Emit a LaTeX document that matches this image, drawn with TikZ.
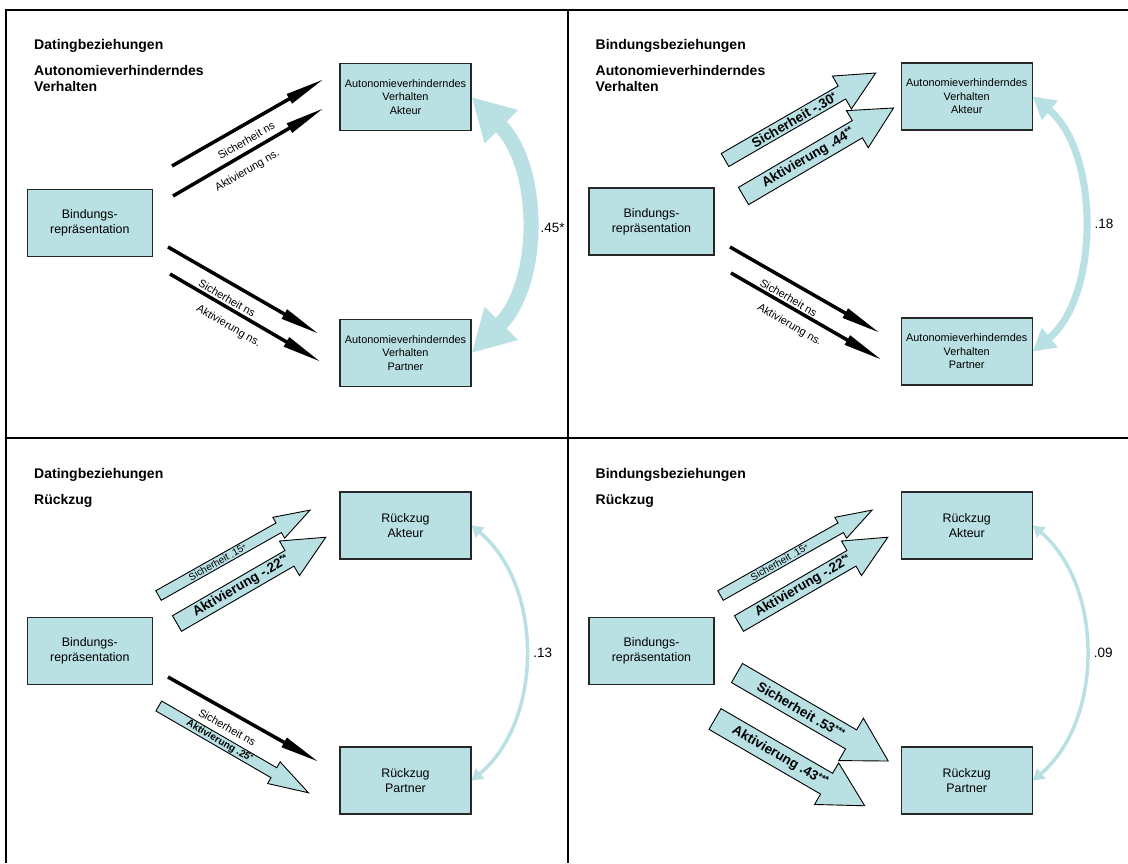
\documentclass[tikz,border=0pt]{standalone}
\usepackage{fontspec}
\setmainfont{Liberation Sans}
\usepackage{graphicx}
\usetikzlibrary{arrows.meta}
\definecolor{lb}{RGB}{185,224,227}
\definecolor{boxline}{RGB}{40,40,40}
\newcommand\fBox{\fontsize{10.9}{13.5}\selectfont}
\newcommand\fBoxL{\fontsize{12.4}{14.8}\selectfont}
\newcommand\fTitle{\fontsize{14}{16}\selectfont\bfseries}
\newcommand\fLbl{\fontsize{11}{13}\selectfont}
\newcommand\fBig{\fontsize{13.5}{15}\selectfont\bfseries}
\newcommand\fSmallB{\fontsize{10}{12}\selectfont\bfseries}
\newcommand\fSmall{\fontsize{10}{12}\selectfont}
\newcommand\fVal{\fontsize{13.5}{15}\selectfont}
\newcommand\sg[1]{\raisebox{0.25em}{\scalebox{0.7}{#1}}}
% #1 name, #2 tail, #3 angle, #4 length, #5 shaft, #6 head width, #7 head length, #8 label pos, #9 text
\newcommand\blockarrow[9]{%
  \begin{scope}[shift={#2},rotate=#3]
    \draw[barrow] (0,{-(#5)/2}) -- ({#4-#7},{-(#5)/2}) -- ({#4-#7},{-(#6)/2}) -- (#4,0)
      -- ({#4-#7},{(#6)/2}) -- ({#4-#7},{(#5)/2}) -- (0,{(#5)/2}) -- cycle;
    \node[transform shape, inner sep=0pt] (#1) at (#8,0) {#9};
  \end{scope}}
\tikzset{
  frame/.style={line width=2pt, draw=black},
  box/.style={draw=boxline, line width=1.2pt, fill=lb, align=center, inner sep=0pt,
    minimum width=131pt, minimum height=67pt, font=\fBox},
  bbox/.style={box, minimum width=125pt, font=\fBoxL},
  rbox/.style={box, font=\fBoxL},
  title/.style={anchor=base west, inner sep=0pt, font=\fTitle},
  blk/.style={line width=3.5pt, draw=black, -{Triangle[length=40pt,width=10pt]}},
  lblb/.style={pos=0.44, sloped, below=8pt, inner sep=1pt, font=\fLbl},
  barrow/.style={draw=black, line width=0.9pt, fill=lb, line join=miter},
  corrA/.style={draw=lb, line width=15pt,
    {Triangle[length=42pt,width=44pt]}-{Triangle[length=42pt,width=44pt]}},
  corrB/.style={draw=lb, line width=7pt,
    {Triangle[length=22pt,width=24pt]}-{Triangle[length=22pt,width=24pt]}},
  corrC/.style={draw=lb, line width=3.5pt,
    {Triangle[length=11pt,width=13pt]}-{Triangle[length=11pt,width=13pt]}},
  val/.style={pos=0.5, anchor=west, inner sep=0pt, font=\fVal}
}
\begin{document}
\begin{tikzpicture}[x=1pt, y=-1pt]
\useasboundingbox (0,0) rectangle (1128,863);
\fill[white] (0,0) rectangle (1128,863);
% frame
\draw[frame] (5.5,863) -- (5.5,9.5) -- (1128,9.5);
\draw[frame] (567.5,9.5) -- (567.5,863);
\draw[frame] (5.5,438) -- (1128,438);

% ================= top left =================
\node[title] (t1a) at (34,49) {Datingbeziehungen};
\node[title] (t1b) at (34,75) {Autonomieverhinderndes};
\node[title] (t1c) at (34,91) {Verhalten};
\node[bbox] (B1) at (89.8,223) {Bindungs-\\repräsentation};
\node[box] (A1) at (405.5,97) {Autonomieverhinderndes\\Verhalten\\Akteur};
\node[box] (P1) at (405.5,353) {Autonomieverhinderndes\\Verhalten\\Partner};
\coordinate (tl1a) at (172,166); \coordinate (tl1b) at (324,79);
\coordinate (tl2a) at (173,196); \coordinate (tl2b) at (324,108);
\coordinate (tl3a) at (168,247); \coordinate (tl3b) at (319,334);
\coordinate (tl4a) at (170,274); \coordinate (tl4b) at (321,362);
\draw[blk] (tl1a) -- node[lblb] (tl1l) {Sicherheit ns} (tl1b);
\draw[blk] (tl2a) -- node[lblb] (tl2l) {Aktivierung ns.} (tl2b);
\draw[blk] (tl3a) -- node[lblb] (tl3l) {Sicherheit ns} (tl3b);
\draw[blk] (tl4a) -- node[lblb] (tl4l) {Aktivierung ns.} (tl4b);
\draw[corrA] (A1.east) .. controls +(70,70) and +(70,-70) .. node[val, xshift=9pt, yshift=-3pt] (v1) {.45*} (P1.east);

% ================= top right =================
\node[title] (t2a) at (595.5,49) {Bindungsbeziehungen};
\node[title] (t2b) at (595.5,75) {Autonomieverhinderndes};
\node[title] (t2c) at (595.5,91) {Verhalten};
\node[bbox] (B2) at (651.5,221.5) {Bindungs-\\repräsentation};
\node[box] (A2) at (966.75,96.5) {Autonomieverhinderndes\\Verhalten\\Akteur};
\node[box] (P2) at (966.75,351.5) {Autonomieverhinderndes\\Verhalten\\Partner};
\blockarrow{tr1}{(725,160)}{30}{174}{15}{38}{39}{80}{\fBig Sicherheit -.30\sg{*}}
\blockarrow{tr2}{(743.5,196)}{30.4}{174}{20}{43}{42}{75}{\fBig Aktivierung .44\sg{**}}
\coordinate (tr3a) at (730,247); \coordinate (tr3b) at (880,333);
\coordinate (tr4a) at (731,273); \coordinate (tr4b) at (882,360);
\draw[blk] (tr3a) -- node[lblb] (tr3l) {Sicherheit ns} (tr3b);
\draw[blk] (tr4a) -- node[lblb] (tr4l) {Aktivierung ns.} (tr4b);
\draw[corrB] (A2.east) .. controls +(67,55) and +(67,-55) .. node[val, xshift=8pt] (v2) {.18} (P2.east);

% ================= bottom left =================
\node[title] (t3a) at (34,478) {Datingbeziehungen};
\node[title] (t3b) at (34,504) {Rückzug};
\node[bbox] (B3) at (89.8,651) {Bindungs-\\repräsentation};
\node[rbox] (A3) at (405.5,525.5) {Rückzug\\Akteur};
\node[rbox] (P3) at (405.5,780.5) {Rückzug\\Partner};
\blockarrow{bl1}{(158.5,595.5)}{29.4}{174}{11}{24}{36}{68}{\fSmall Sicherheit .15\sg{+}}
\blockarrow{bl2}{(177,623.5)}{30.1}{172}{18}{40}{42}{74}{\fBig Aktivierung -.22\sg{**}}
\coordinate (bl3a) at (168,677); \coordinate (bl3b) at (319,762);
\draw[blk] (bl3a) -- node[lblb] (bl3l) {Sicherheit ns} (bl3b);
\blockarrow{bl4}{(158.8,706)}{-30.1}{173}{11.5}{25}{40}{70}{\fSmallB Aktivierung .25\sg{*}}
\draw[corrC] (A3.east) .. controls +(72,60) and +(72,-60) .. node[val, xshift=6pt] (v3) {.13} (P3.east);

% ================= bottom right =================
\node[title] (t4a) at (595.5,478) {Bindungsbeziehungen};
\node[title] (t4b) at (595.5,504) {Rückzug};
\node[bbox] (B4) at (651.5,651) {Bindungs-\\repräsentation};
\node[rbox] (A4) at (966.75,525.5) {Rückzug\\Akteur};
\node[rbox] (P4) at (966.75,780.5) {Rückzug\\Partner};
\blockarrow{br1}{(720.5,595.5)}{29.4}{174}{11}{24}{36}{68}{\fSmall Sicherheit .15\sg{+}}
\blockarrow{br2}{(739,623.5)}{30.1}{172}{18}{40}{42}{74}{\fBig Aktivierung -.22\sg{**}}
\blockarrow{br3}{(737,673)}{-30.2}{175}{22}{49}{43}{74}{\fBig Sicherheit .53\sg{***}}
\blockarrow{br4}{(715,719)}{-30.1}{173}{24}{48}{44}{75}{\fBig Aktivierung .43\sg{***}}
\draw[corrC] (A4.east) .. controls +(71,60) and +(71,-60) .. node[val, xshift=6pt] (v4) {.09} (P4.east);
\end{tikzpicture}
\end{document}
